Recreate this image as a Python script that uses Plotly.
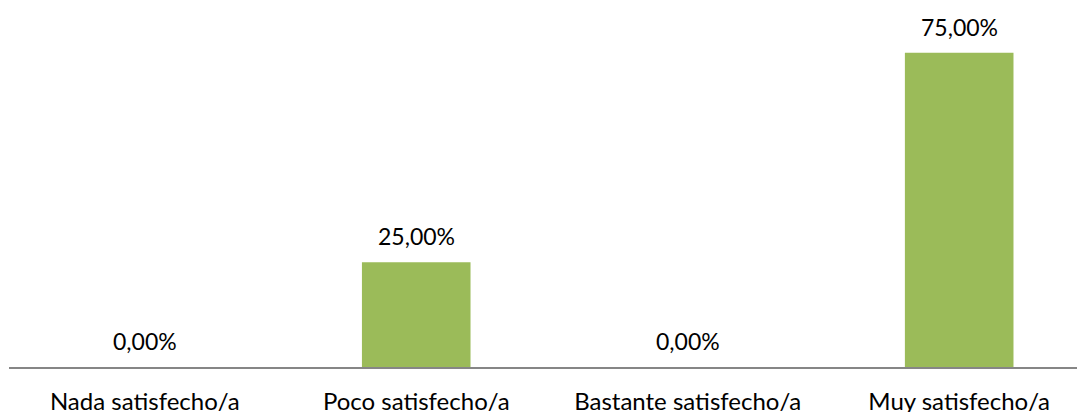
import plotly.graph_objects as go

categories = ["Nada satisfecho/a", "Poco satisfecho/a", "Bastante satisfecho/a", "Muy satisfecho/a"]
values = [0.0, 25.0, 0.0, 75.0]
labels = ["0,00%", "25,00%", "0,00%", "75,00%"]

xs = list(range(len(categories)))

fig = go.Figure(go.Bar(
    x=xs,
    y=values,
    marker=dict(color="#9BBB59", line=dict(width=0)),
    width=0.40,
    cliponaxis=False,
))

for xi, v, lab in zip(xs, values, labels):
    fig.add_annotation(
        x=xi, y=v, text=lab, showarrow=False,
        xanchor="center", yanchor="bottom", yshift=10,
        font=dict(size=23, color="#000000"),
    )

fig.update_layout(
    width=1077, height=404,
    margin=dict(l=1, r=5, t=0, b=45),
    paper_bgcolor="white", plot_bgcolor="white",
    font=dict(family="Lato, 'Liberation Sans', sans-serif", size=23, color="#000000"),
    showlegend=False,
    xaxis=dict(
        tickmode="array",
        tickvals=xs,
        ticktext=categories,
        range=[-0.5, 3.445],
        showline=True, linecolor="#868686", linewidth=2,
        showgrid=False, zeroline=False, ticks="",
        tickfont=dict(size=24),
        ticklabelstandoff=12,
        automargin=False,
    ),
    yaxis=dict(
        range=[0, 85.7],
        visible=False,
        showgrid=False, zeroline=False,
    ),
)

fig.write_html("out.html")
